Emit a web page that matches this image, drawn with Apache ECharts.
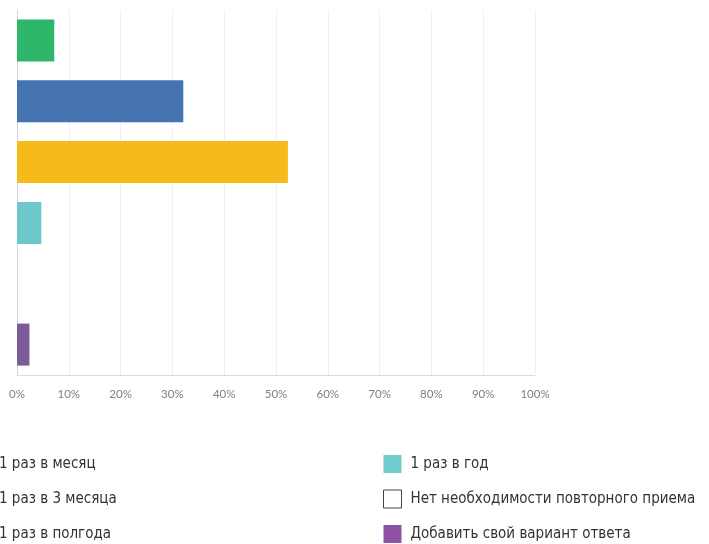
<!DOCTYPE html>
<html><head><meta charset="utf-8">
<script src="https://cdn.jsdelivr.net/npm/echarts@6/dist/echarts.min.js"></script>
<style>html,body{margin:0;padding:0;background:#fff;}#c{width:709px;height:544px;}</style>
</head><body><div id="c"></div>
<script>
const categories = ['1 раз в месяц','1 раз в 3 месяца','1 раз в полгода','1 раз в год','Нет необходимости повторного приема','Добавить свой вариант ответа'];
const values = [7.2, 32.1, 52.3, 4.7, 0, 2.4];
const barColors = ['#2eb76b','#4674b1','#f6bb1a','#6ec8ca','#ffffff','#7b5c98'];
const legendColors = ['#2eb76b','#4674b1','#f6bb1a','#70cbcd','#ffffff','#8e51a3'];
const xTicks = [0,10,20,30,40,50,60,70,80,90,100];

const chart = echarts.init(document.getElementById('c'));
const series = categories.map((name,i)=>({
  name: name,
  type: 'bar',
  barWidth: 42,
  barGap: '-100%',
  itemStyle: {color: barColors[i]},
  data: categories.map((c,j)=> j===i ? values[i] : '-')
}));
const legendItem = i => ({
  name: categories[i],
  itemStyle: i===4 ? {color:'#ffffff', borderColor:'#444', borderWidth:1} : {color: legendColors[i], borderWidth:0}
});
const legendText = {
  fontFamily: "'Liberation Sans Narrow','DejaVu Sans Condensed',sans-serif",
  fontSize: 15, color: '#333', lineHeight: 18, padding: [2,0,0,4]
};
chart.setOption({
  animation: false,
  grid: {left: 17, right: 174, top: 10, bottom: 169, containLabel: false},
  xAxis: {
    type: 'value', min: xTicks[0], max: xTicks[xTicks.length-1], interval: 10,
    axisLine: {show: true, lineStyle: {color: '#d6dce1'}},
    axisTick: {show: false},
    splitLine: {show: true, lineStyle: {color: '#edf1f4'}},
    axisLabel: {formatter: '{value}%', color: '#808080', fontSize: 11.5, fontFamily: 'Lato, sans-serif', margin: 13}
  },
  yAxis: {
    type: 'category', data: categories, inverse: true,
    axisLine: {show: true, lineStyle: {color: '#d0d6dc'}},
    axisTick: {show: false}, axisLabel: {show: false}
  },
  legend: [
    {orient: 'vertical', left: -28, top: 454, height: 140, padding: 0, itemWidth: 18, itemHeight: 18, itemGap: 15,
     icon: 'rect', selectedMode: false, textStyle: legendText,
     data: [0,1,2].map(legendItem)},
    {orient: 'vertical', left: 383, top: 454, height: 140, padding: 0, itemWidth: 18, itemHeight: 18, itemGap: 15,
     icon: 'rect', selectedMode: false, textStyle: legendText,
     data: [3,4,5].map(legendItem)}
  ],
  series: series
});
</script></body></html>
